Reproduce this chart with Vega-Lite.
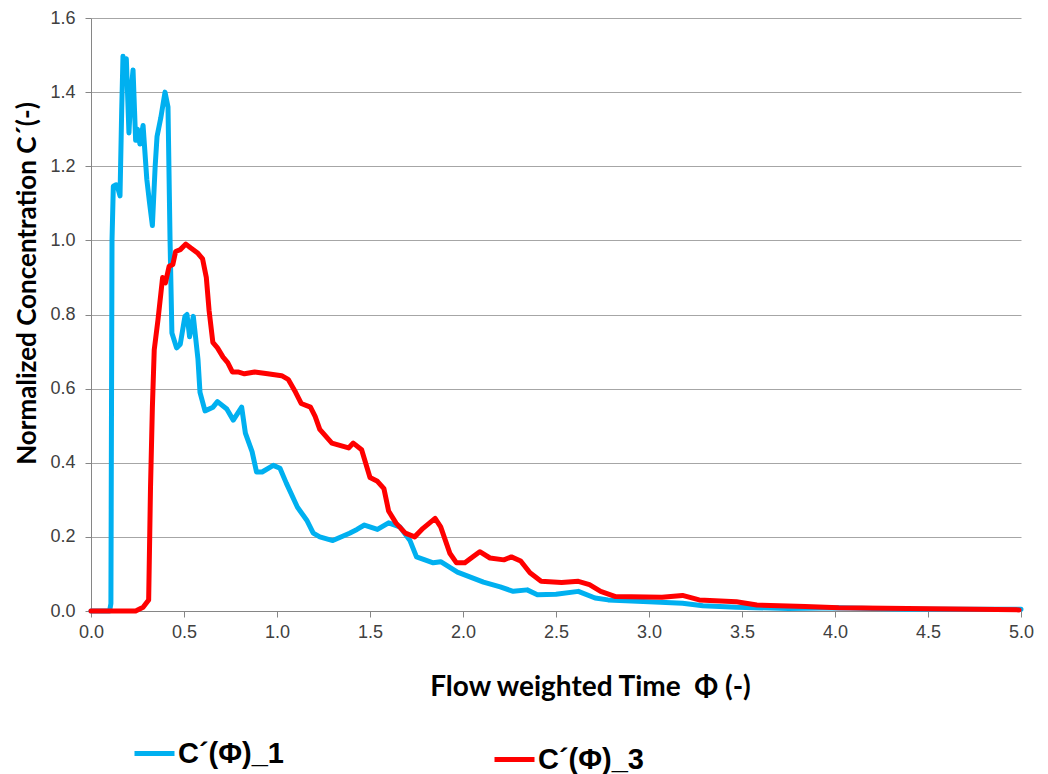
{
  "$schema": "https://vega.github.io/schema/vega-lite/v6.json",
  "width": 930,
  "height": 593,
  "autosize": "none",
  "padding": {"left": 91, "top": 18, "right": 27, "bottom": 163},
  "background": "white",
  "config": {"view": {"stroke": null}, "font": "Liberation Sans"},
  "datasets": {
    "c1": [
      {"phi": 0, "c": 0}, {"phi": 0.1, "c": 0}, {"phi": 0.107, "c": 0.02}, {"phi": 0.113, "c": 1.0},
      {"phi": 0.12, "c": 1.146}, {"phi": 0.135, "c": 1.15}, {"phi": 0.145, "c": 1.14}, {"phi": 0.156, "c": 1.12},
      {"phi": 0.165, "c": 1.35}, {"phi": 0.172, "c": 1.497}, {"phi": 0.18, "c": 1.44}, {"phi": 0.19, "c": 1.49},
      {"phi": 0.204, "c": 1.29}, {"phi": 0.215, "c": 1.4}, {"phi": 0.226, "c": 1.46}, {"phi": 0.24, "c": 1.27},
      {"phi": 0.25, "c": 1.3}, {"phi": 0.263, "c": 1.26}, {"phi": 0.28, "c": 1.31}, {"phi": 0.3, "c": 1.165},
      {"phi": 0.315, "c": 1.1}, {"phi": 0.33, "c": 1.04}, {"phi": 0.345, "c": 1.2}, {"phi": 0.355, "c": 1.28},
      {"phi": 0.375, "c": 1.33}, {"phi": 0.398, "c": 1.4}, {"phi": 0.414, "c": 1.36}, {"phi": 0.425, "c": 1.0},
      {"phi": 0.435, "c": 0.75}, {"phi": 0.46, "c": 0.71}, {"phi": 0.48, "c": 0.72}, {"phi": 0.505, "c": 0.795},
      {"phi": 0.516, "c": 0.8}, {"phi": 0.53, "c": 0.74}, {"phi": 0.55, "c": 0.795}, {"phi": 0.575, "c": 0.68},
      {"phi": 0.586, "c": 0.59}, {"phi": 0.613, "c": 0.54}, {"phi": 0.656, "c": 0.55}, {"phi": 0.68, "c": 0.565},
      {"phi": 0.73, "c": 0.545}, {"phi": 0.765, "c": 0.515}, {"phi": 0.81, "c": 0.55}, {"phi": 0.83, "c": 0.48},
      {"phi": 0.866, "c": 0.43}, {"phi": 0.89, "c": 0.375}, {"phi": 0.92, "c": 0.375}, {"phi": 0.98, "c": 0.393},
      {"phi": 1.016, "c": 0.385}, {"phi": 1.05, "c": 0.345}, {"phi": 1.11, "c": 0.28}, {"phi": 1.16, "c": 0.245},
      {"phi": 1.195, "c": 0.21}, {"phi": 1.23, "c": 0.2}, {"phi": 1.3, "c": 0.19}, {"phi": 1.39, "c": 0.21},
      {"phi": 1.43, "c": 0.22}, {"phi": 1.47, "c": 0.232}, {"phi": 1.54, "c": 0.22}, {"phi": 1.6, "c": 0.238},
      {"phi": 1.66, "c": 0.227}, {"phi": 1.715, "c": 0.19}, {"phi": 1.75, "c": 0.146}, {"phi": 1.84, "c": 0.13},
      {"phi": 1.88, "c": 0.133}, {"phi": 1.97, "c": 0.105}, {"phi": 2.11, "c": 0.078}, {"phi": 2.2, "c": 0.065},
      {"phi": 2.27, "c": 0.053}, {"phi": 2.345, "c": 0.057}, {"phi": 2.4, "c": 0.044}, {"phi": 2.5, "c": 0.045},
      {"phi": 2.62, "c": 0.053}, {"phi": 2.71, "c": 0.035}, {"phi": 2.78, "c": 0.03}, {"phi": 3.0, "c": 0.025},
      {"phi": 3.18, "c": 0.021}, {"phi": 3.29, "c": 0.014}, {"phi": 3.47, "c": 0.01}, {"phi": 3.75, "c": 0.007},
      {"phi": 4.02, "c": 0.009}, {"phi": 4.39, "c": 0.005}, {"phi": 5.0, "c": 0.005}
    ],
    "c3": [
      {"phi": 0, "c": 0}, {"phi": 0.24, "c": 0}, {"phi": 0.28, "c": 0.01}, {"phi": 0.31, "c": 0.03},
      {"phi": 0.32, "c": 0.335}, {"phi": 0.33, "c": 0.55}, {"phi": 0.34, "c": 0.705}, {"phi": 0.36, "c": 0.785},
      {"phi": 0.385, "c": 0.9}, {"phi": 0.4, "c": 0.885}, {"phi": 0.42, "c": 0.93}, {"phi": 0.44, "c": 0.935},
      {"phi": 0.455, "c": 0.97}, {"phi": 0.48, "c": 0.975}, {"phi": 0.51, "c": 0.99}, {"phi": 0.535, "c": 0.98},
      {"phi": 0.575, "c": 0.965}, {"phi": 0.6, "c": 0.95}, {"phi": 0.62, "c": 0.9}, {"phi": 0.635, "c": 0.81},
      {"phi": 0.655, "c": 0.725}, {"phi": 0.68, "c": 0.71}, {"phi": 0.71, "c": 0.685}, {"phi": 0.735, "c": 0.67},
      {"phi": 0.76, "c": 0.645}, {"phi": 0.79, "c": 0.645}, {"phi": 0.825, "c": 0.64}, {"phi": 0.88, "c": 0.645},
      {"phi": 0.95, "c": 0.64}, {"phi": 1.025, "c": 0.635}, {"phi": 1.06, "c": 0.625}, {"phi": 1.1, "c": 0.59},
      {"phi": 1.13, "c": 0.56}, {"phi": 1.18, "c": 0.55}, {"phi": 1.205, "c": 0.525}, {"phi": 1.23, "c": 0.49},
      {"phi": 1.295, "c": 0.453}, {"phi": 1.385, "c": 0.44}, {"phi": 1.41, "c": 0.453}, {"phi": 1.455, "c": 0.435},
      {"phi": 1.5, "c": 0.36}, {"phi": 1.54, "c": 0.35}, {"phi": 1.575, "c": 0.33}, {"phi": 1.6, "c": 0.27},
      {"phi": 1.64, "c": 0.237}, {"phi": 1.69, "c": 0.21}, {"phi": 1.74, "c": 0.2}, {"phi": 1.785, "c": 0.223},
      {"phi": 1.85, "c": 0.25}, {"phi": 1.88, "c": 0.227}, {"phi": 1.93, "c": 0.155}, {"phi": 1.965, "c": 0.13},
      {"phi": 2.01, "c": 0.13}, {"phi": 2.055, "c": 0.147}, {"phi": 2.09, "c": 0.16}, {"phi": 2.145, "c": 0.143},
      {"phi": 2.22, "c": 0.138}, {"phi": 2.26, "c": 0.146}, {"phi": 2.31, "c": 0.135}, {"phi": 2.36, "c": 0.103},
      {"phi": 2.42, "c": 0.08}, {"phi": 2.53, "c": 0.077}, {"phi": 2.62, "c": 0.08}, {"phi": 2.68, "c": 0.071},
      {"phi": 2.74, "c": 0.053}, {"phi": 2.82, "c": 0.039}, {"phi": 3.07, "c": 0.037}, {"phi": 3.18, "c": 0.042},
      {"phi": 3.27, "c": 0.03}, {"phi": 3.47, "c": 0.025}, {"phi": 3.58, "c": 0.016}, {"phi": 3.84, "c": 0.012},
      {"phi": 4.02, "c": 0.009}, {"phi": 4.39, "c": 0.007}, {"phi": 4.75, "c": 0.005}, {"phi": 4.99, "c": 0.003}
    ]
  },
  "layer": [
    {
      "data": {"name": "c1"},
      "mark": {"type": "line", "strokeWidth": 5, "strokeJoin": "round", "strokeCap": "round"},
      "encoding": {
        "x": {
          "field": "phi", "type": "quantitative",
          "scale": {"domain": [0, 5], "nice": false, "zero": false},
          "axis": {
            "values": [0, 0.5, 1, 1.5, 2, 2.5, 3, 3.5, 4, 4.5, 5],
            "format": ".1f", "grid": false, "labelFlush": false, "labelOverlap": false,
            "domainColor": "#868686", "tickColor": "#868686", "tickSize": 6,
            "labelFont": "Liberation Sans", "labelFontSize": 18, "labelColor": "#404040", "labelPadding": 6,
            "title": "Flow weighted Time \u00a0Φ (-)",
            "titleFont": "Lato", "titleFontSize": 28, "titleFontWeight": "bold", "titleColor": "#000000",
            "titleX": 499, "titleY": 84, "titleAlign": "center", "titleBaseline": "alphabetic"
          }
        },
        "y": {
          "field": "c", "type": "quantitative",
          "scale": {"domain": [0, 1.6], "nice": false},
          "axis": {
            "values": [0, 0.2, 0.4, 0.6, 0.8, 1.0, 1.2, 1.4, 1.6],
            "format": ".1f", "grid": true, "gridColor": "#A6A6A6", "gridWidth": 1,
            "labelFlush": false, "labelOverlap": false,
            "domainColor": "#868686", "tickColor": "#868686", "tickSize": 6,
            "labelFont": "Liberation Sans", "labelFontSize": 18, "labelColor": "#404040", "labelPadding": 10,
            "title": "Normalized Concentration C´(-)",
            "titleFont": "Lato", "titleFontSize": 26, "titleFontWeight": "bold", "titleColor": "#000000",
            "titleAngle": -90, "titleX": -56, "titleY": 265, "titleAlign": "center", "titleBaseline": "alphabetic"
          }
        },
        "color": {
          "datum": "C´(Φ)_1",
          "scale": {"domain": ["C´(Φ)_1"], "range": ["#00B0F0"]},
          "legend": {
            "orient": "none", "legendX": 41, "legendY": 713, "title": null, "padding": 0,
            "symbolType": "stroke", "symbolSize": 1600, "symbolStrokeWidth": 5,
            "labelFont": "Liberation Sans", "labelFontWeight": "bold", "labelFontSize": 29,
            "labelColor": "#000000", "labelOffset": 1, "labelLimit": 300
          }
        }
      }
    },
    {
      "data": {"name": "c3"},
      "mark": {"type": "line", "strokeWidth": 5, "strokeJoin": "round", "strokeCap": "round"},
      "encoding": {
        "x": {"field": "phi", "type": "quantitative"},
        "y": {"field": "c", "type": "quantitative"},
        "stroke": {
          "datum": "C´(Φ)_3",
          "scale": {"domain": ["C´(Φ)_3"], "range": ["#FF0000"]},
          "legend": {
            "orient": "none", "legendX": 401, "legendY": 719, "title": null, "padding": 0,
            "symbolType": "stroke", "symbolSize": 1600, "symbolStrokeWidth": 5,
            "labelFont": "Liberation Sans", "labelFontWeight": "bold", "labelFontSize": 29,
            "labelColor": "#000000", "labelOffset": 1, "labelLimit": 300
          }
        }
      }
    }
  ]
}
